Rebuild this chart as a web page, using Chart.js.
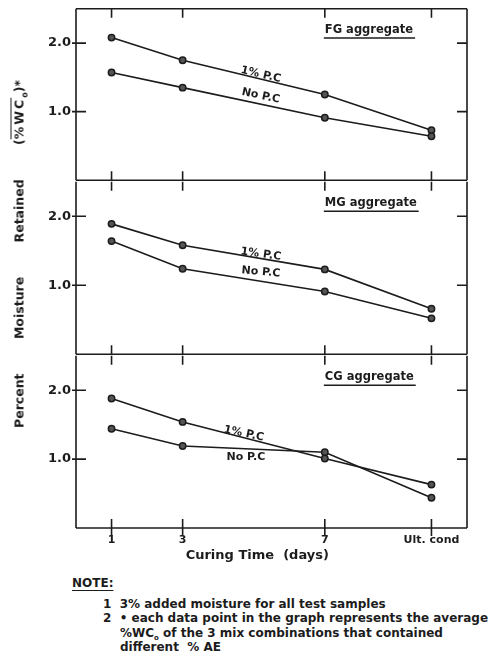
<!DOCTYPE html>
<html>
<head>
<meta charset="utf-8">
<script src="https://cdn.jsdelivr.net/npm/chart.js@4.4.1/dist/chart.umd.min.js"></script>
<style>
  html, body { margin: 0; padding: 0; background: #fff; }
  body { width: 498px; height: 665px; position: relative; overflow: hidden;
         font-family: "DejaVu Sans", sans-serif; color: #1c1c1c; }
  .panel { position: absolute; left: 0; width: 498px; }
  #ytitle { position: absolute; left: 19px; top: 254px; transform: translate(-50%, -50%) rotate(-90deg);
            white-space: nowrap; font-size: 12.5px; font-weight: bold; word-spacing: 30px; }
  .ov { text-decoration: overline; letter-spacing: 2px; }
  sub { line-height: 0; }
  #notes { position: absolute; left: 72px; top: 576px; font-size: 12px; font-weight: bold; line-height: 14.5px; }
  #notes .head { text-decoration: underline; text-underline-offset: 3px; margin-bottom: 6px; }
  #notes .row { white-space: nowrap; }
</style>
</head>
<body>
<div class="panel" style="top:-4px;height:197px"><canvas id="p1"></canvas></div>
<div class="panel" style="top:169px;height:198px"><canvas id="p2"></canvas></div>
<div class="panel" style="top:343px;height:222px"><canvas id="p3"></canvas></div>
<div id="ytitle">Percent Moisture Retained (<span class="ov">%WC</span><sub style="font-size:8px">o</sub>)*</div>
<div id="notes">
  <div class="head">NOTE:</div>
  <div class="row" style="padding-left:31px">1&nbsp;&nbsp;3% added moisture for all test samples</div>
  <div class="row" style="padding-left:31px">2&nbsp;&nbsp;• each data point in the graph represents the average</div>
  <div class="row" style="padding-left:48px">%WC<sub style="font-size:7px">o</sub> of the 3 mix combinations that contained</div>
  <div class="row" style="padding-left:48px">different&nbsp;&nbsp;% AE</div>
</div>
<script>
// curing time; 10 stands for the ultimate condition
const days = [1, 3, 7, 10];
const dayLabels = ['1', '3', '7', 'Ult. cond'];
const yTicks = [1.0, 2.0];

const fgPC   = [2.08, 1.75, 1.25, 0.73];
const fgNoPC = [1.57, 1.35, 0.91, 0.64];
const mgPC   = [1.89, 1.58, 1.23, 0.66];
const mgNoPC = [1.64, 1.24, 0.91, 0.52];
const cgPC   = [1.88, 1.54, 1.01, 0.63];
const cgNoPC = [1.44, 1.19, 1.10, 0.44];

const ink = '#1c1c1c';
const font = '"DejaVu Sans", sans-serif';

function pts(vals) {
  return days.map((d, i) => ({ x: d, y: vals[i] }));
}

function series(label, vals) {
  return {
    label: label,
    data: pts(vals),
    borderColor: ink,
    borderWidth: 1.6,
    pointRadius: 3.2,
    pointBackgroundColor: '#555',
    pointBorderColor: ink,
    pointBorderWidth: 1.5,
    tension: 0
  };
}

// box, inward ticks and hand lettered labels of each panel
const framePlugin = {
  id: 'frame',
  afterDatasetsDraw(chart, args, opts) {
    const ctx = chart.ctx;
    const a = chart.chartArea;
    const x = chart.scales.x, y = chart.scales.y;
    ctx.save();
    ctx.strokeStyle = ink;
    ctx.lineWidth = 1.6;
    ctx.beginPath();
    // the top edge is shared with the panel above, so only the first panel draws it
    if (opts.first) {
      ctx.moveTo(a.left, a.top); ctx.lineTo(a.right, a.top);
    }
    ctx.moveTo(a.left, a.top); ctx.lineTo(a.left, a.bottom);
    ctx.moveTo(a.right, a.top); ctx.lineTo(a.right, a.bottom);
    ctx.moveTo(a.left, a.bottom); ctx.lineTo(a.right, a.bottom);
    days.forEach(d => {
      const px = x.getPixelForValue(d);
      ctx.moveTo(px, a.top); ctx.lineTo(px, a.top + 9);
      ctx.moveTo(px, a.bottom - 9); ctx.lineTo(px, a.bottom + (opts.last ? 8 : 0));
    });
    yTicks.forEach(v => {
      const py = y.getPixelForValue(v);
      ctx.moveTo(a.left - 4, py); ctx.lineTo(a.left + 10, py);
      ctx.moveTo(a.right - 10, py); ctx.lineTo(a.right, py);
    });
    ctx.stroke();

    ctx.fillStyle = ink;
    ctx.textBaseline = 'middle';
    // panel name, underlined
    ctx.font = 'bold 11.5px ' + font;
    ctx.textAlign = 'left';
    const nx = x.getPixelForValue(7.0), ny = y.getPixelForValue(2.19);
    ctx.fillText(opts.name, nx, ny);
    const w = ctx.measureText(opts.name).width;
    ctx.lineWidth = 1.5;
    ctx.beginPath();
    ctx.moveTo(nx - 1, ny + 8); ctx.lineTo(nx + w + 2, ny + 8);
    ctx.stroke();

    ctx.font = 'bold 11px ' + font;
    ctx.textAlign = 'center';
    opts.tags.forEach(t => {
      ctx.save();
      ctx.translate(x.getPixelForValue(t.x), y.getPixelForValue(t.y));
      ctx.rotate(t.rot * Math.PI / 180);
      ctx.fillText(t.text, 0, 0);
      ctx.restore();
    });

    // axis title of the shared x axis, under the last panel
    if (opts.last) {
      ctx.font = 'bold 13px ' + font;
      ctx.fillText('Curing Time  (days)', x.getPixelForValue(5.1), a.bottom + 28);
    }
    ctx.restore();
  }
};

function makePanel(id, name, pc, noPc, tags, first, last) {
  new Chart(document.getElementById(id), {
    type: 'line',
    data: { datasets: [series('1% P.C', pc), series('No P.C', noPc)] },
    options: {
      responsive: true,
      maintainAspectRatio: false,
      animation: false,
      layout: { padding: { top: 12, right: 31, bottom: last ? 0 : 12, left: 0 } },
      plugins: {
        legend: { display: false },
        tooltip: { enabled: false },
        frame: { name: name, tags: tags, first: first, last: last }
      },
      scales: {
        x: {
          type: 'linear',
          min: 0, max: 11,
          display: last,
          afterBuildTicks: s => { s.ticks = days.map(v => ({ value: v })); },
          afterFit: s => { if (last) s.height = 37; },
          grid: { display: false, drawTicks: false },
          border: { display: false },
          ticks: {
            autoSkip: false,
            maxRotation: 0,
            padding: 6,
            color: ink,
            font: { family: font, size: 11, weight: 'bold' },
            callback: v => dayLabels[days.indexOf(v)]
          }
        },
        y: {
          min: 0, max: 2.5,
          afterBuildTicks: s => { s.ticks = yTicks.map(v => ({ value: v })); },
          afterFit: s => { s.width = 76; },
          grid: { display: false, drawTicks: false },
          border: { display: false },
          ticks: {
            padding: 5,
            color: ink,
            font: { family: font, size: 13, weight: 'bold' },
            callback: v => v.toFixed(1)
          }
        }
      }
    },
    plugins: [framePlugin]
  });
}

makePanel('p1', 'FG aggregate', fgPC, fgNoPC, [
  { text: '1% P.C', x: 5.2, y: 1.54, rot: 13 },
  { text: 'No P.C', x: 5.2, y: 1.23, rot: 12 }
], true, false);
makePanel('p2', 'MG aggregate', mgPC, mgNoPC, [
  { text: '1% P.C', x: 5.2, y: 1.45, rot: 8 },
  { text: 'No P.C', x: 5.2, y: 1.19, rot: 5 }
], false, false);
makePanel('p3', 'CG aggregate', cgPC, cgNoPC, [
  { text: '1% P.C', x: 4.72, y: 1.37, rot: 12 },
  { text: 'No P.C', x: 4.78, y: 1.03, rot: 0 }
], false, true);
</script>
</body>
</html>
